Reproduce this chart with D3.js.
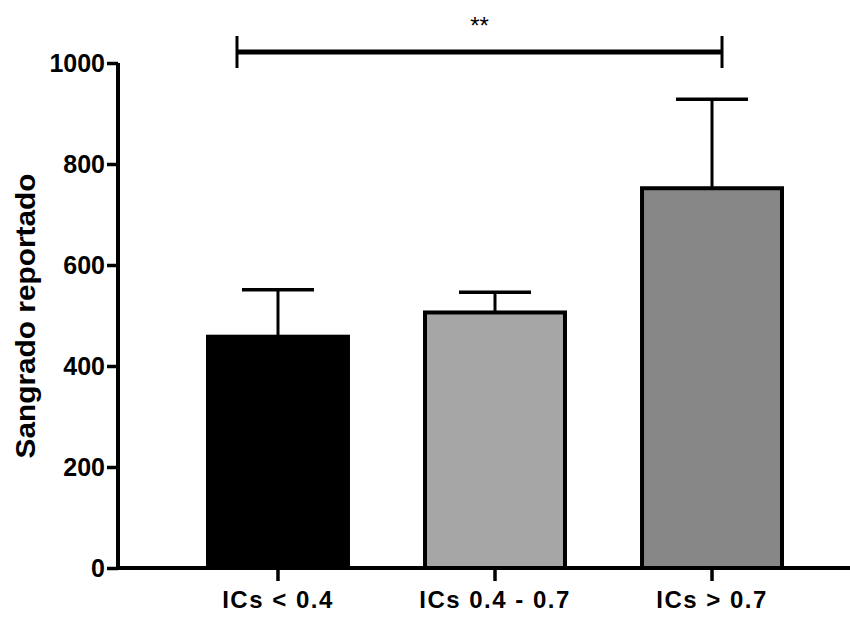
<!DOCTYPE html>
<html>
<head>
<meta charset="utf-8">
<script src="https://cdn.jsdelivr.net/npm/d3@7"></script>
<style>
  body { margin: 0; background: #fff; }
  svg { display: block; font-family: "Liberation Sans", Arial, sans-serif; }
</style>
</head>
<body>
<div id="chart"></div>
<script>
const categories = ['ICs < 0.4', 'ICs 0.4 - 0.7', 'ICs > 0.7'];
const means = [458, 506, 752];
const errUpper = [551, 546, 928];
const fills = ['#000000', '#a6a6a6', '#878787'];
const yTicks = [0, 200, 400, 600, 800, 1000];
const sigPair = ['ICs < 0.4', 'ICs > 0.7'];
const sigLabel = '**';

const W = 850, H = 617;

const svg = d3.select('#chart').append('svg')
    .attr('width', W)
    .attr('height', H);

const yScale = d3.scaleLinear()
    .domain([0, 1000])
    .range([568, 63]);

const xScale = d3.scaleBand()
    .domain(categories)
    .range([208, 782])
    .paddingInner(0.355)
    .paddingOuter(0);

const cx = d => xScale(d) + xScale.bandwidth() / 2;

// bars
svg.selectAll('.bar')
    .data(categories)
    .enter()
    .append('rect')
    .attr('class', 'bar')
    .attr('x', d => xScale(d))
    .attr('y', (d, i) => yScale(means[i]))
    .attr('width', xScale.bandwidth())
    .attr('height', (d, i) => yScale(0) - yScale(means[i]))
    .attr('fill', (d, i) => fills[i])
    .attr('stroke', '#000')
    .attr('stroke-width', 4);

// error bars (upper only)
const capW = 72;
svg.selectAll('.err')
    .data(categories)
    .enter()
    .append('line')
    .attr('x1', d => cx(d))
    .attr('x2', d => cx(d))
    .attr('y1', (d, i) => yScale(means[i]))
    .attr('y2', (d, i) => yScale(errUpper[i]))
    .attr('stroke', '#000')
    .attr('stroke-width', 3);

svg.selectAll('.cap')
    .data(categories)
    .enter()
    .append('line')
    .attr('x1', d => cx(d) - capW / 2)
    .attr('x2', d => cx(d) + capW / 2)
    .attr('y1', (d, i) => yScale(errUpper[i]))
    .attr('y2', (d, i) => yScale(errUpper[i]))
    .attr('stroke', '#000')
    .attr('stroke-width', 3.5);

// y axis
const yAxis = svg.append('g')
    .attr('transform', 'translate(118,0)')
    .call(d3.axisLeft(yScale).tickValues(yTicks).tickFormat(d3.format('d')).tickSize(11).tickPadding(2));
yAxis.select('.domain')
    .attr('d', `M0,${yScale(1000)}V${yScale(0)}`)
    .attr('stroke-width', 4);
yAxis.selectAll('.tick line').attr('stroke-width', 3.5);
yAxis.selectAll('.tick text')
    .style('font-size', '25px')
    .style('font-weight', 'bold')
    .attr('fill', '#000');

// x axis
const xAxis = svg.append('g')
    .attr('transform', `translate(0,${yScale(0)})`)
    .call(d3.axisBottom(xScale).tickSize(13).tickPadding(10));
xAxis.select('.domain').remove();
xAxis.append('line')
    .attr('x1', 116).attr('x2', W)
    .attr('y1', 0).attr('y2', 0)
    .attr('stroke', '#000')
    .attr('stroke-width', 4);
xAxis.selectAll('.tick line').attr('stroke-width', 3.5);
xAxis.selectAll('.tick text')
    .style('font-size', '24px')
    .style('font-weight', 'bold')
    .style('letter-spacing', '1.5px')
    .attr('fill', '#000');

// y label
svg.append('text')
    .attr('transform', 'translate(35,316) rotate(-90)')
    .attr('text-anchor', 'middle')
    .attr('textLength', 285)
    .attr('lengthAdjust', 'spacingAndGlyphs')
    .style('font-size', '27px')
    .style('font-weight', 'bold')
    .text('Sangrado reportado');

// significance bracket
const sx1 = cx(sigPair[0]) - 41, sx2 = cx(sigPair[1]) + 10;
const sy = 52;
const br = svg.append('g').attr('stroke', '#000');
br.append('line').attr('x1', sx1).attr('x2', sx2).attr('y1', sy).attr('y2', sy).attr('stroke-width', 5);
br.append('line').attr('x1', sx1).attr('x2', sx1).attr('y1', sy - 16).attr('y2', sy + 16).attr('stroke-width', 3);
br.append('line').attr('x1', sx2).attr('x2', sx2).attr('y1', sy - 16).attr('y2', sy + 16).attr('stroke-width', 3);
svg.append('text')
    .attr('x', (sx1 + sx2) / 2)
    .attr('y', 34)
    .attr('text-anchor', 'middle')
    .style('font-size', '24px')
    .text(sigLabel);
</script>
</body>
</html>
